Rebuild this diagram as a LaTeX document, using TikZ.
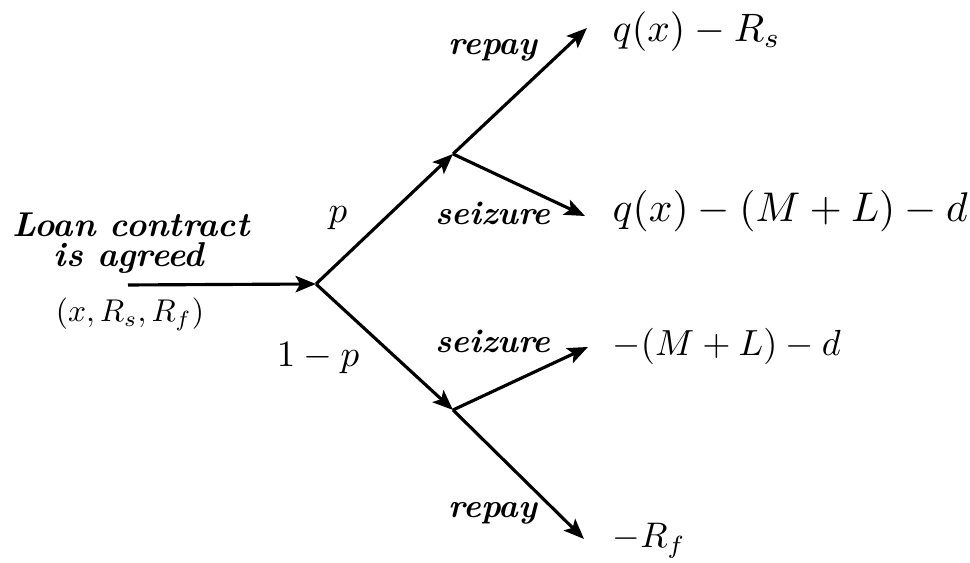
\documentclass[tikz,border=0pt]{standalone}
\usepackage{fontspec}
\usetikzlibrary{arrows.meta}
\newcommand{\sbx}[2]{\scalebox{#1}{#2}}
\begin{document}
\begin{tikzpicture}[x=0.27pt,y=-0.27pt,
  br/.style={line width=0.85pt,-{Stealth[length=5.5pt,width=4.4pt,inset=1.2pt]}},
  lab/.style={font=\fontsize{9}{10}\selectfont\bfseries\itshape,anchor=base,inner sep=0pt},
  mth/.style={anchor=base west,inner sep=0pt}]
\useasboundingbox (0,0) rectangle (970,563);
\coordinate (s) at (128,285);
\coordinate (n1) at (316,284);
\coordinate (u) at (453,154);
\coordinate (d) at (453,410);
\coordinate (t1) at (587,28);
\coordinate (t2) at (585,216);
\coordinate (t3) at (588,347);
\coordinate (t4) at (584,539);
\draw[br] (s) -- (n1);
\draw[br] (n1) -- (u);
\draw[br] (n1) -- (d);
\draw[br] (u) -- (t1);
\draw[br] (u) -- (t2);
\draw[br] (d) -- (t3);
\draw[br] (d) -- (t4);
\node[mth] (o1) at (612,42) {\sbx{1.07}{$q(x)-R_s$}};
\node[mth] (o2) at (612,222) {\sbx{1.12}{$q(x)-(M+L)-d$}};
\node[mth] (o3) at (612,356) {\sbx{0.98}{$-(M+L)-d$}};
\node[mth] (o4) at (612,548) {\sbx{0.96}{$-R_f$}};
\node[lab] (r1) at (493,55) {repay};
\node[lab] (z1) at (493,225) {seizure};
\node[lab] (z2) at (493,353) {seizure};
\node[lab] (r2) at (493,518) {repay};
\node[anchor=base,inner sep=0pt] (pp) at (338,223) {$p$};
\node[anchor=base,inner sep=0pt] (qq) at (318,367) {$1-p$};
\node[lab,font=\fontsize{9.3}{10}\selectfont\bfseries\itshape] (l1) at (131,237) {Loan contract};
\node[lab,font=\fontsize{9.3}{10}\selectfont\bfseries\itshape] (l2) at (129,267) {is agreed};
\node[anchor=base,inner sep=0pt] (args) at (130,322) {\sbx{0.85}{$(x,R_s,R_f)$}};
\end{tikzpicture}
\end{document}
